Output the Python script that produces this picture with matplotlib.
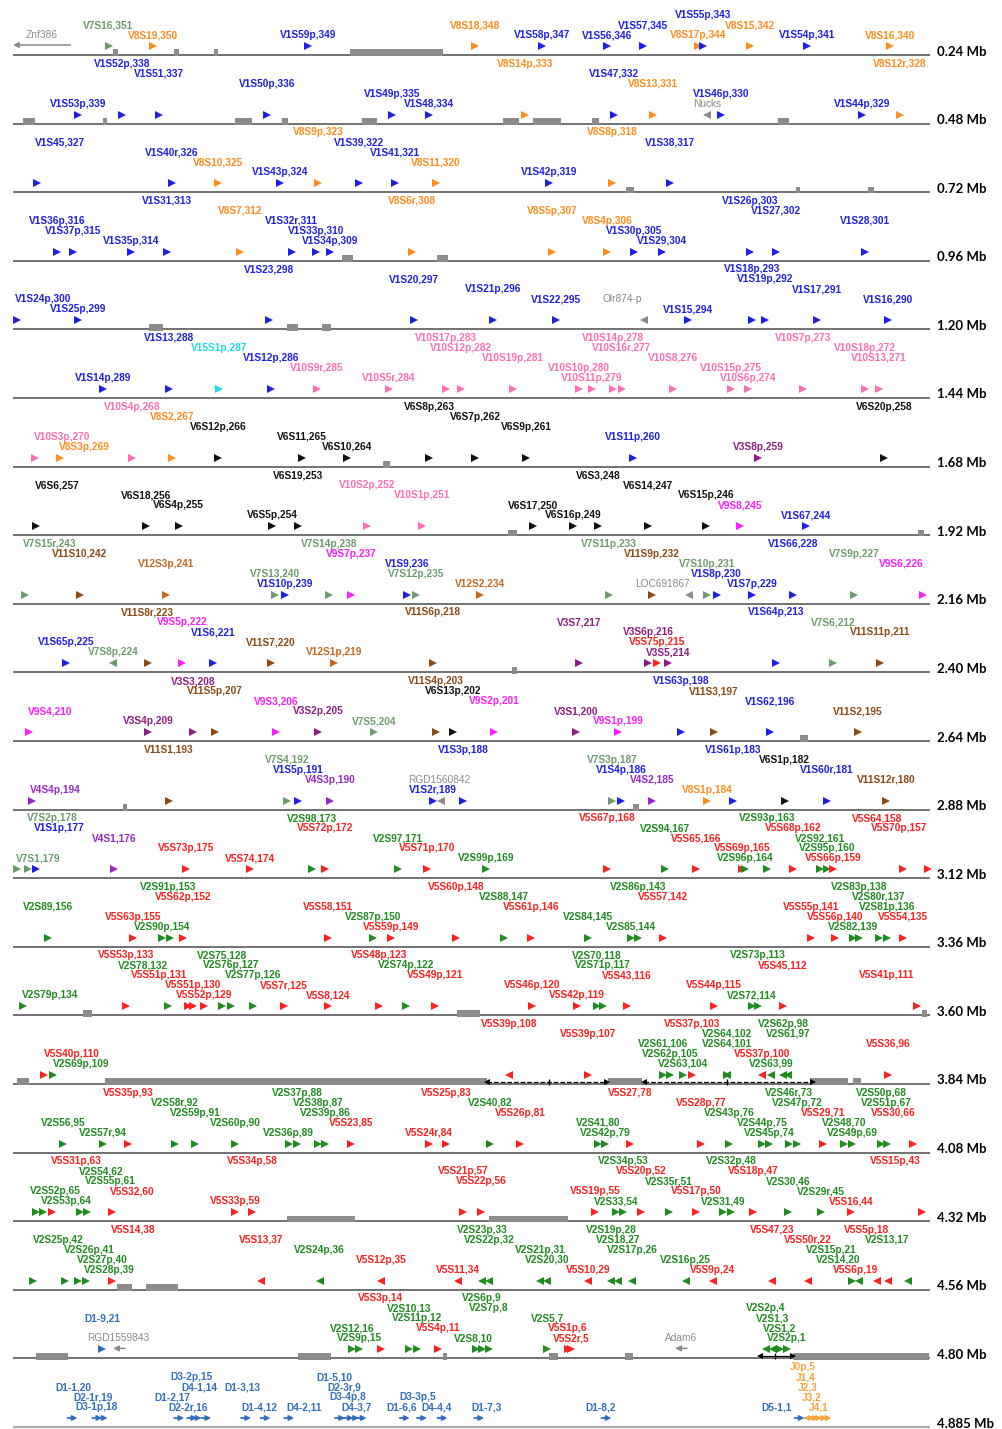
import re
import matplotlib
matplotlib.use("Agg")
import matplotlib.pyplot as plt
from matplotlib.transforms import offset_copy

# -----------------------------
# Gene segments, one list per 0.24 Mb row
# (name, position in kb from row start, label tier, strand, label shift in kb)
# -----------------------------
row01 = [("V7S16,351", 25, 2), ("V8S19,350", 36.7, 1), ("V1S59p,349", 77.2, 1),
         ("V8S18,348", 120.9, 2), ("V1S58p,347", 138.5, 1), ("V1S56,346", 155.5, 1),
         ("V1S57,345", 164.9, 2), ("V8S17p,344", 179.3, 1), ("V1S55p,343", 180.6, 3),
         ("V8S15,342", 192.9, 2), ("V1S54p,341", 207.8, 1), ("V8S16,340", 229.5, 1)]
row02 = [("V1S53p,339", 17, 1), ("V1S52p,338", 28.5, 5), ("V1S51,337", 38.2, 4),
         ("V1S50p,336", 66.5, 3), ("V1S49p,335", 99.2, 2), ("V1S48,334", 108.9, 1),
         ("V8S14p,333", 134, 5), ("V1S47,332", 157.3, 4), ("V8S13,331", 167.5, 3),
         ("Nucks", 181.6, 1, "<"), ("V1S46p,330", 185.3, 2), ("V1S44p,329", 222.2, 1),
         ("V8S12r,328", 232.1, 5)]
row03 = [("V1S45,327", 6.3, 4, ">", 6), ("V1S40r,326", 41.6, 3), ("V8S10,325", 53.7, 2),
         ("V1S43p,324", 69.9, 1), ("V8S9p,323", 79.8, 5), ("V1S39,322", 90.6, 4),
         ("V1S41,321", 100, 3), ("V8S11,320", 110.7, 2), ("V1S42p,319", 140.3, 1),
         ("V8S8p,318", 156.8, 5), ("V1S38,317", 171.9, 4)]
row04 = [("V1S36p,316", 11.5, 3), ("V1S37p,315", 15.7, 2), ("V1S35p,314", 30.9, 1),
         ("V1S31,313", 40.3, 5), ("V8S7,312", 59.4, 4), ("V1S32r,311", 73, 3),
         ("V1S33p,310", 79.3, 2), ("V1S34p,309", 83, 1), ("V8S6r,308", 104.4, 5),
         ("V8S5p,307", 141.1, 4), ("V8S4p,306", 155.5, 3), ("V1S30p,305", 162.5, 2),
         ("V1S29,304", 169.9, 1), ("V1S26p,303", 192.9, 5), ("V1S27,302", 199.7, 4),
         ("V1S28,301", 223, 3)]
row05 = [("V1S24p,300", 1, 2, ">", 7), ("V1S25p,299", 17, 1), ("V1S23,298", 67, 5),
         ("V1S20,297", 105, 4), ("V1S21p,296", 125.6, 3), ("V1S22,295", 142.1, 2),
         ("Olr874-p", 165.1, 2, "<", -5.7), ("V1S15,294", 176.7, 1), ("V1S18p,293", 193.4, 5),
         ("V1S19p,292", 196.8, 4), ("V1S17,291", 210.4, 3), ("V1S16,290", 229, 2)]
row06 = [("V1S14p,289", 23.6, 1), ("V1S13,288", 40.8, 5), ("V15S1p,287", 53.9, 4),
         ("V1S12p,286", 67.5, 3), ("V10S9r,285", 79.6, 2), ("V10S5r,284", 98.4, 1),
         ("V10S17p,283", 113.3, 5), ("V10S12p,282", 117.3, 4), ("V10S19p,281", 130.9, 3),
         ("V10S10p,280", 148.1, 2), ("V10S11p,279", 151.5, 1), ("V10S14p,278", 157, 5),
         ("V10S16r,277", 159.4, 4), ("V10S8,276", 172.7, 3), ("V10S15p,275", 187.9, 2),
         ("V10S6p,274", 192.4, 1), ("V10S7p,273", 206.8, 5), ("V10S18p,272", 223, 4),
         ("V10S13,271", 226.6, 3)]
row07 = [("V10S3p,270", 5.8, 2, ">", 7), ("V8S3p,269", 12.3, 1, ">", 6.3),
         ("V10S4p,268", 31.1, 5), ("V8S2,267", 41.6, 4), ("V6S12p,266", 53.7, 3),
         ("V6S11,265", 75.6, 2), ("V6S10,264", 87.4, 1), ("V6S8p,263", 108.9, 5),
         ("V6S7p,262", 120.9, 4), ("V6S9p,261", 134.3, 3), ("V1S11p,260", 162.3, 2),
         ("V3S8p,259", 195, 1), ("V6S20p,258", 228, 5)]
row08 = [("V6S6,257", 6, 4, ">", 5.5), ("V6S18,256", 34.8, 3), ("V6S4p,255", 43.4, 2),
         ("V6S5p,254", 67.8, 1), ("V6S19,253", 74.6, 5), ("V10S2p,252", 92.6, 4),
         ("V10S1p,251", 107, 3), ("V6S17,250", 136.1, 2), ("V6S16p,249", 146.6, 1),
         ("V6S3,248", 153.1, 5), ("V6S14,247", 166.2, 4), ("V6S15p,246", 181.4, 3),
         ("V9S8,245", 190.3, 2), ("V1S67,244", 207.5, 1)]
row09 = [("V7S15r,243", 3.1, 5, ">", 6.6), ("V11S10,242", 17.5, 4), ("V12S3p,241", 40, 3),
         ("V7S13,240", 68.6, 2), ("V1S10p,239", 71.2, 1), ("V7S14p,238", 82.7, 5),
         ("V9S7p,237", 88.5, 4), ("V1S9,236", 103.1, 3), ("V7S12p,235", 105.5, 2),
         ("V12S2,234", 122.2, 1), ("V7S11p,233", 156, 5), ("V11S9p,232", 167.2, 4),
         ("LOC691867", 176.9, 1, "<", -7), ("V7S10p,231", 181.6, 3), ("V1S8p,230", 184.2, 2),
         ("V1S7p,229", 193.4, 1), ("V1S66,228", 204.1, 5), ("V7S9p,227", 220.1, 4),
         ("V9S6,226", 238.2, 3, ">", -5.8)]
row10 = [("V1S65p,225", 13.9, 2), ("V7S8p,224", 26.2, 1, "<"), ("V11S8r,223", 35.3, 5),
         ("V9S5p,222", 44.2, 4), ("V1S6,221", 52.3, 3), ("V11S7,220", 67.5, 2),
         ("V12S1p,219", 84, 1), ("V11S6p,218", 109.9, 5), ("V3S7,217", 148.1, 4),
         ("V3S6p,216", 166.2, 3), ("V5S75p,215", 168.5, 2), ("V3S5,214", 171.4, 1),
         ("V1S64p,213", 199.7, 5), ("V7S6,212", 214.6, 4), ("V11S11p,211", 226.9, 3)]
row11 = [("V9S4,210", 4.2, 2, ">", 5.5), ("V3S4p,209", 35.3, 1), ("V3S3,208", 47.1, 5),
         ("V11S5p,207", 52.9, 4), ("V9S3,206", 68.8, 3), ("V3S2p,205", 79.8, 2),
         ("V7S5,204", 94.5, 1), ("V11S4p,203", 110.7, 5), ("V6S13p,202", 115.2, 4),
         ("V9S2p,201", 125.9, 3), ("V3S1,200", 147.3, 2), ("V9S1p,199", 158.3, 1),
         ("V1S63p,198", 174.8, 5), ("V11S3,197", 183.5, 4), ("V1S62,196", 198.1, 3),
         ("V11S2,195", 221.1, 2)]
row12 = [("V4S4p,194", 5, 1, ">", 6), ("V11S1,193", 40.8, 5), ("V7S4,192", 71.7, 4),
         ("V1S5p,191", 74.6, 3), ("V4S3p,190", 83, 2), ("V1S2r,189", 109.9, 1),
         ("RGD1560842", 112, 2, "<", -0.5), ("V1S3p,188", 117.8, 5), ("V7S3p,187", 156.8, 4),
         ("V1S4p,186", 159.1, 3), ("V4S2,185", 167.2, 2), ("V8S1p,184", 181.6, 1),
         ("V1S61p,183", 188.4, 5), ("V6S1p,182", 202, 4), ("V1S60r,181", 213, 3),
         ("V11S12r,180", 228.5, 2)]
row13 = [("V7S1,179", 1, 1, ">", 5.5), ("V7S2p,178", 3.9, 5, ">", 6.3), ("V1S1p,177", 6, 4, ">", 6),
         ("V4S1,176", 26.4, 3), ("V5S73p,175", 45.3, 2), ("V5S74,174", 62, 1),
         ("V2S98,173", 78.3, 5), ("V5S72p,172", 81.7, 4), ("V2S97,171", 100.8, 3),
         ("V5S71p,170", 108.4, 2), ("V2S99p,169", 123.8, 1), ("V5S67p,168", 155.5, 5),
         ("V2S94,167", 170.6, 4), ("V5S65,166", 178.8, 3), ("V5S69p,165", 190.8, 2),
         ("V2S96p,164", 191.6, 1), ("V2S93p,163", 197.3, 5), ("V5S68p,162", 204.1, 4),
         ("V2S92,161", 211.2, 3), ("V2S95p,160", 213, 2), ("V5S66p,159", 214.6, 1),
         ("V5S64,158", 232.9, 5, ">", -6.8), ("V5S70p,157", 239.5, 4, ">", -7.6)]
row14 = [("V2S89,156", 9.2, 3), ("V5S63p,155", 31.4, 2), ("V2S90p,154", 39, 1),
         ("V2S91p,153", 41.1, 5, ">", -0.5), ("V5S62p,152", 44.5, 4), ("V5S58,151", 82.4, 3),
         ("V2S87p,150", 94.2, 2), ("V5S59p,149", 98.9, 1), ("V5S60p,148", 115.9, 5),
         ("V2S88,147", 128.5, 4), ("V5S61p,146", 135.6, 3), ("V2S84,145", 150.5, 2),
         ("V2S85,144", 161.7, 1), ("V2S86p,143", 163.6, 5), ("V5S57,142", 170.1, 4),
         ("V5S55p,141", 208.8, 3), ("V5S56p,140", 215.1, 2), ("V2S82,139", 219.8, 1),
         ("V2S83p,138", 221.4, 5), ("V2S80r,137", 226.6, 4), ("V2S81p,136", 228.7, 3),
         ("V5S54,135", 232.9, 2)]
row15 = [("V2S79p,134", 2.6, 1, ">", 7), ("V5S53p,133", 29.6, 5), ("V2S78,132", 40.6, 4, ">", -6.6),
         ("V5S51p,131", 45.8, 3, ">", -7.6), ("V5S51p,130", 47.1, 2), ("V5S52p,129", 50, 1),
         ("V2S75,128", 54.7, 5), ("V2S76p,127", 57.1, 4), ("V2S77p,126", 62.8, 3),
         ("V5S7r,125", 70.9, 2), ("V5S8,124", 82.4, 1), ("V5S48p,123", 95.8, 5),
         ("V2S74p,122", 102.9, 4), ("V5S49p,121", 110.4, 3), ("V5S46p,120", 135.8, 2),
         ("V5S42p,119", 147.6, 1), ("V2S70,118", 152.8, 5), ("V2S71p,117", 154.4, 4),
         ("V5S43,116", 160.7, 3), ("V5S44p,115", 183.5, 2), ("V2S72,114", 193.4, 1),
         ("V2S73p,113", 195, 5), ("V5S45,112", 201.5, 4), ("V5S41p,111", 236.6, 3, ">", -7.9)]
row16 = [("V5S40p,110", 8.1, 2, ">", 7.3), ("V2S69p,109", 10.5, 1, ">", 7.3),
         ("V5S39p,108", 129.8, 5, "<"), ("V5S39p,107", 150.5, 4), ("V2S61,106", 170.1, 3),
         ("V2S62p,105", 171.9, 2), ("V2S63,104", 175.3, 1), ("V5S37p,103", 177.7, 5),
         ("V2S64,102", 186.9, 4), ("V2S64,101", 186.9, 3, "<"), ("V5S37p,100", 196, 2, "<"),
         ("V2S63,99", 198.4, 1, "<"), ("V2S62p,98", 201.5, 5, "<"), ("V2S61,97", 202.8, 4, "<"),
         ("V5S36,96", 229, 3)]
row17 = [("V2S56,95", 13.1, 2), ("V2S57r,94", 23.6, 1), ("V5S35p,93", 30.1, 5),
         ("V2S58r,92", 42.4, 4), ("V2S59p,91", 47.6, 3), ("V2S60p,90", 58.1, 2),
         ("V2S36p,89", 72.2, 1), ("V2S37p,88", 74.3, 5), ("V2S38p,87", 79.8, 4),
         ("V2S39p,86", 81.7, 3), ("V5S23,85", 88.5, 2), ("V5S24r,84", 108.9, 1),
         ("V5S25p,83", 113.3, 5), ("V2S40,82", 124.8, 4), ("V5S26p,81", 132.7, 3),
         ("V2S41,80", 153.1, 2), ("V2S42p,79", 154.9, 1), ("V5S27,78", 161.5, 5),
         ("V5S28p,77", 180.1, 4), ("V2S43p,76", 187.4, 3), ("V2S44p,75", 196, 2),
         ("V2S45p,74", 197.9, 1), ("V2S46r,73", 203.1, 5), ("V2S47p,72", 205.2, 4),
         ("V5S29,71", 212, 3), ("V2S48,70", 217.5, 2), ("V2S49p,69", 219.6, 1),
         ("V2S50p,68", 227.2, 5), ("V2S51p,67", 228.7, 4), ("V5S30,66", 235.5, 3, ">", -5.2)]
row18 = [("V2S52p,65", 6, 2, ">", 5), ("V2S53p,64", 7.9, 1, ">", 6.2), ("V5S31p,63", 10.2, 5, ">", 6.3),
         ("V2S54,62", 17.5, 4, ">", 5.5), ("V2S55p,61", 19.4, 3, ">", 6), ("V5S32,60", 25.9, 2, ">", 5.2),
         ("V5S33p,59", 58.1, 1), ("V5S34p,58", 62.6, 5), ("V5S21p,57", 117.8, 4),
         ("V5S22p,56", 122.5, 3), ("V5S19p,55", 152.3, 2), ("V2S33,54", 157.8, 1),
         ("V2S34p,53", 159.7, 5), ("V5S20p,52", 164.4, 4), ("V2S35r,51", 171.7, 3),
         ("V5S17p,50", 178.8, 2), ("V2S31,49", 185.8, 1), ("V2S32p,48", 187.9, 5),
         ("V5S18p,47", 193.7, 4), ("V2S30,46", 202.8, 3), ("V2S29r,45", 211.5, 2),
         ("V5S16,44", 219.3, 1), ("V5S15p,43", 237.9, 5, ">", -7)]
row19 = [("V2S25p,42", 5.2, 4, ">", 6.6), ("V2S26p,41", 13.6, 3, ">", 6.3), ("V2S27p,40", 17, 2, ">", 6.3),
         ("V2S28p,39", 19.1, 1, ">", 6), ("V5S14,38", 25.9, 5, ">", 5.5), ("V5S13,37", 64.9, 4, "<"),
         ("V2S24p,36", 80.3, 3, "<"), ("V5S12p,35", 96.3, 2, "<"), ("V5S11,34", 116.5, 1, "<"),
         ("V2S23p,33", 122.7, 5, "<"), ("V2S22p,32", 124.6, 4, "<"), ("V2S21p,31", 137.9, 3, "<"),
         ("V2S20,30", 139.8, 2, "<"), ("V5S10,29", 150.5, 1, "<"), ("V2S19p,28", 156.5, 5, "<"),
         ("V2S18,27", 158.3, 4, "<"), ("V2S17p,26", 162, 3, "<"), ("V2S16p,25", 176.1, 2, "<"),
         ("V5S9p,24", 183.2, 1, "<"), ("V5S47,23", 198.6, 5, "<"), ("V5S50r,22", 208.1, 4, "<"),
         ("V2S15p,21", 219.6, 3, ">", -5.5), ("V2S14,20", 221.4, 2, "<", -5.5),
         ("V5S6p,19", 226.1, 1, "<", -5.5), ("V5S5p,18", 229, 5, "<", -5.5),
         ("V2S13,17", 234.2, 4, "<", -5.5)]
row20 = [("D1-9,21", 23.3, 3), ("V2S12,16", 88.7, 2), ("V2S9p,15", 90.6, 1),
         ("V5S3p,14", 96.3, 5), ("V2S10,13", 103.6, 4), ("V2S11p,12", 105.7, 3),
         ("V5S4p,11", 111.2, 2), ("V2S8,10", 121.2, 1, ">", -0.8), ("V2S6p,9", 122.7, 5),
         ("V2S7p,8", 124.6, 4), ("V2S5,7", 139.8, 3), ("V5S1p,6", 145.3, 2),
         ("V5S2r,5", 146, 1), ("V2S2p,4", 197.1, 4, "<"), ("V2S1,3", 198.9, 3, "<"),
         ("V2S1,2", 200.7, 2), ("V2S2p,1", 202.6, 1)]
# last row: D and J segments, 4.80-4.885 Mb (absolute kb)
row21 = [("D1-1,20", 4805.6, 3), ("D2-1r,19", 4807.9, 2, ">", -0.5), ("D3-1p,18", 4808.4, 1, ">", -0.7),
         ("D1-2,17", 4815.5, 2, ">", -0.7), ("D2-2r,16", 4816.7, 1, ">", -0.5),
         ("D3-2p,15", 4817.1, 4, ">", -0.6), ("D4-1,14", 4818, 3, ">", -0.7),
         ("D1-3,13", 4821.7, 3, ">", -0.4), ("D1-4,12", 4823.5, 1, ">", -0.7),
         ("D4-2,11", 4825.7, 1, ">", 1.3), ("D1-5,10", 4830.4, 4, ">", -0.6),
         ("D2-3r,9", 4831.2, 3, ">", -0.5), ("D3-4p,8", 4831.7, 2, ">", -0.7),
         ("D4-3,7", 4832.4, 1, ">", -0.6), ("D1-6,6", 4836.4, 1, ">", -0.4),
         ("D3-3p,5", 4838, 2, ">", -0.5), ("D4-4,4", 4839.9, 1, ">", -0.6),
         ("D1-7,3", 4843.3, 1, ">", 0.6), ("D1-8,2", 4855.1, 1, ">", -0.6),
         ("D5-1,1", 4873, 1, ">", -2.2), ("J0p,5", 4873.9, 5, ">", -0.7),
         ("J1,4", 4874.3, 4, ">", -0.8), ("J2,3", 4874.6, 3, ">", -0.9),
         ("J3,2", 4875.1, 2, ">", -1.1), ("J4,1", 4875.5, 1, ">", -0.8)]

rows = [row01, row02, row03, row04, row05, row06, row07, row08, row09, row10, row11,
        row12, row13, row14, row15, row16, row17, row18, row19, row20, row21]

row_ends = ["0.24 Mb", "0.48 Mb", "0.72 Mb", "0.96 Mb", "1.20 Mb", "1.44 Mb", "1.68 Mb",
            "1.92 Mb", "2.16 Mb", "2.40 Mb", "2.64 Mb", "2.88 Mb", "3.12 Mb", "3.36 Mb",
            "3.60 Mb", "3.84 Mb", "4.08 Mb", "4.32 Mb", "4.56 Mb", "4.80 Mb", "4.885 Mb"]

# gray blocks on the line (start kb, end kb), by row index
gaps = {
    0: [(26.2, 27.4), (42.1, 43.4), (52.6, 53.7), (88.2, 112.5)],
    1: [(2.6, 5.8), (23.6, 24.6), (58.1, 62.6), (70.4, 72), (91.3, 95.3), (128.2, 132.4),
        (136.1, 143.4), (151.5, 153.4), (200.2, 203.1)],
    2: [(160.4, 162.5), (204.9, 206), (223.8, 225.3)],
    3: [(86.1, 89), (111, 113.8)],
    4: [(35.6, 39.3), (71.7, 74.6), (80.9, 83.2)],
    6: [(96.8, 98.7)],
    7: [(129.6, 131.9), (236.9, 238.4)],
    9: [(130.6, 131.9)],
    10: [(206, 208.1)],
    11: [(28.8, 29.8), (162.3, 163.8)],
    14: [(18.3, 20.7), (116.2, 122.2), (237.9, 239.2)],
    15: [(1, 4.2), (24.1, 124), (155.8, 164.6), (208.6, 218.5), (219.8, 221.9)],
    17: [(71.7, 89.5), (124.6, 145.3)],
    18: [(27.2, 31.1), (34.8, 43.2)],
    19: [(6, 14.4), (74.6, 83.2), (112.5, 113.6), (140.3, 142.6), (160.2, 162.3), (204.1, 239.7)],
}

# other genes drawn as long arrows: (row, name, start kb, end kb, tier, label kb)
other_genes = [(0, "Znf386", 0, 15, 1, 7.6),
               (19, "RGD1559843", 26.2, 29.3, 1, 27.5),
               (19, "Adam6", 173.3, 176.4, 1, 174.8)]

# duplicated blocks: (row, start kb, end kb, mark kb, dashed)
dup_blocks = [(15, 124, 155.5, 140.3, True), (15, 165.1, 209.4, 186.9, True),
              (19, 195.5, 204.1, 199.4, False)]

colors = {"V1": "#1f1fe6", "V2": "#1e8c1e", "V3": "#8c1e82", "V4": "#9628c8",
          "V5": "#ff2020", "V6": "#111111", "V7": "#6b9b6b", "V8": "#ff8c1e",
          "V9": "#ff1eff", "V10": "#ff6eb4", "V11": "#8b4a14", "V12": "#c3691e",
          "V15": "#1edce6", "D": "#326ebe", "J": "#f5a53c", "other": "#8a8a8a"}


def family(name):
    m = re.match(r"V(\d+)S", name)
    if m:
        return "V" + m.group(1)
    if name.startswith("D"):
        return "D"
    if name.startswith("J"):
        return "J"
    return "other"


W, H = 1002, 1429
fig = plt.figure(figsize=(W / 100, H / 100), dpi=100)

step = 68.6
first = 55
left, right = 13, 930

for i, genes in enumerate(rows):
    base = first + i * step
    ax = fig.add_axes([left / W, (H - base - 5) / H, (right - left) / W, step / H])
    last = i == len(rows) - 1
    if last:
        ax.set_xlim(4800, 4885)
    else:
        ax.set_xlim(0, 240)
    ax.set_ylim(-0.5, 6.36)
    ax.axis("off")

    ax.axhline(0, color="#aaaaaa" if last else "#5a5a5a", lw=1.6 if last else 1.2, zorder=1)

    blocks = gaps.get(i, [])
    if blocks:
        ax.broken_barh([(s, e - s) for s, e in blocks], (-0.12, 0.68),
                       facecolor="#8c8c8c", edgecolor="none", zorder=2)

    head_tr = offset_copy(ax.transData, fig=fig, x=4, y=0, units="dots")
    tail_tr = offset_copy(ax.transData, fig=fig, x=-6, y=0, units="dots")

    for g in genes:
        name, pos, tier = g[0], g[1], g[2]
        strand = g[3] if len(g) > 3 else ">"
        shift = g[4] if len(g) > 4 else 0
        fam = family(name)
        col = colors[fam]
        if last:
            ax.annotate("", xy=(pos, 0.9), xycoords=head_tr, xytext=(pos, 0.9),
                        textcoords=tail_tr,
                        arrowprops=dict(arrowstyle="-|>", color=col, lw=1.3,
                                        mutation_scale=7, shrinkA=0, shrinkB=0))
        else:
            ax.plot(pos, 0.9, marker=strand, color=col, ms=5.5, mew=0, zorder=3)
        ax.text(pos + shift, 1 + tier, name, ha="center", va="center",
                fontsize=7.3, color=col, family="Liberation Sans",
                fontweight="normal" if fam == "other" else "bold")

    ax.text(1 + 7 / (right - left), 0.35, row_ends[i], transform=ax.get_yaxis_transform(),
            ha="left", va="center", fontsize=9.5, fontweight="bold", family="Lato")

    for r, name, s, e, tier, lab in other_genes:
        if r != i:
            continue
        ax.annotate("", xy=(s, 1.0), xytext=(e, 1.0),
                    arrowprops=dict(arrowstyle="-|>", color=colors["other"], lw=1.1,
                                    mutation_scale=8, shrinkA=0, shrinkB=0))
        ax.text(lab, 1 + tier, name, ha="center", va="center", fontsize=7.3,
                color=colors["other"], family="Liberation Sans")

    for r, s, e, mark, dashed in dup_blocks:
        if r != i:
            continue
        y = 0.25
        ax.plot([s, e], [y, y], color="black", lw=0.9, ls="--" if dashed else "-", zorder=4)
        ax.plot(s, y, marker="<", color="black", ms=4, mew=0, zorder=4)
        ax.plot(e, y, marker=">", color="black", ms=4, mew=0, zorder=4)
        ax.plot(mark, y, marker="|", color="black", ms=5, mew=1, zorder=4)

fig.savefig("out.png", dpi=100)
